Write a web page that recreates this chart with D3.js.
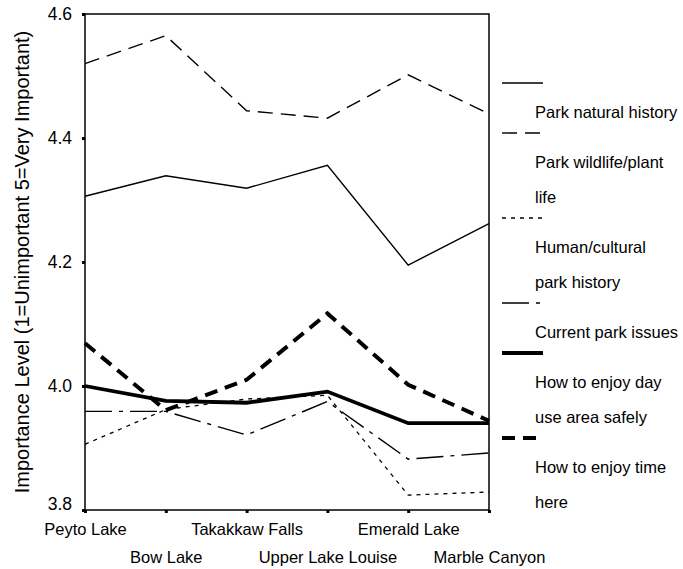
<!DOCTYPE html>
<html>
<head>
<meta charset="utf-8">
<script src="https://cdn.jsdelivr.net/npm/d3@7"></script>
<style>
  html, body { margin: 0; padding: 0; background: #fff; }
  svg { display: block; }
  text { font-family: "Liberation Sans", Arial, sans-serif; fill: #000; }
</style>
</head>
<body>
<script>
// ---- data ----
const categories = ["Peyto Lake", "Bow Lake", "Takakkaw Falls", "Upper Lake Louise", "Emerald Lake", "Marble Canyon"];
const yTicks = [3.8, 4.0, 4.2, 4.4, 4.6];
const seriesNames = [
  "Park natural history",
  "Park wildlife/plant life",
  "Human/cultural park history",
  "Current park issues",
  "How to enjoy day use area safely",
  "How to enjoy time here"
];
const legendLines = [
  ["Park natural history"],
  ["Park wildlife/plant", "life"],
  ["Human/cultural", "park history"],
  ["Current park issues"],
  ["How to enjoy day", "use area safely"],
  ["How to enjoy time", "here"]
];
const naturalHistory = [4.306, 4.339, 4.319, 4.356, 4.195, 4.262];
const wildlife       = [4.520, 4.565, 4.444, 4.432, 4.502, 4.439];
const humanCultural  = [3.906, 3.962, 3.979, 3.985, 3.824, 3.829];
const currentIssues  = [3.959, 3.959, 3.921, 3.975, 3.882, 3.892];
const daySafely      = [4.000, 3.976, 3.973, 3.991, 3.940, 3.940];
const timeHere       = [4.069, 3.961, 4.010, 4.117, 4.002, 3.944];
const seriesValues = [naturalHistory, wildlife, humanCultural, currentIssues, daySafely, timeHere];

// ---- styles ----
const styles = [
  { w: 1.4, dash: null },
  { w: 1.4, dash: "15,8" },
  { w: 1.3, dash: "4,5" },
  { w: 1.4, dash: "27,7,4,7" },
  { w: 3.8, dash: null },
  { w: 4,   dash: "13,8" }
];

const W = 683, H = 569;
const L = 85, R = 489, T = 14, B = 510;

const svg = d3.select("body").append("svg").attr("width", W).attr("height", H);

const x = d3.scalePoint().domain(categories).range([L, R]).padding(0);
const y = d3.scaleLinear().domain([3.8, 4.6]).range([B, T]);

// frame
svg.append("rect").attr("x", L).attr("y", T).attr("width", R - L).attr("height", B - T)
  .attr("fill", "none").attr("stroke", "#000").attr("stroke-width", 1.5);

// y axis
const yAxis = svg.append("g").attr("transform", `translate(${L},0)`)
  .call(d3.axisLeft(y).tickValues(yTicks).tickFormat(d3.format(".1f")).tickSize(3).tickPadding(10));
yAxis.select(".domain").remove();
yAxis.selectAll(".tick line").attr("stroke", "#000").attr("stroke-width", 3);
yAxis.selectAll(".tick text").style("font-size", "17.5px")
  .style("font-family", "'Liberation Sans', Arial, sans-serif")
  .attr("dy", (d) => d === 3.8 ? "-0.05em" : "0.32em");

// x axis
const xAxis = svg.append("g").attr("transform", `translate(0,${B})`)
  .call(d3.axisBottom(x).tickSize(3).tickPadding(0));
xAxis.select(".domain").remove();
xAxis.selectAll(".tick line").attr("stroke", "#000").attr("stroke-width", 3);
xAxis.selectAll(".tick text").style("font-size", "16.5px")
  .style("font-family", "'Liberation Sans', Arial, sans-serif")
  .attr("dy", null)
  .attr("y", (d, i) => i % 2 === 0 ? 25 : 53);

// y title
svg.append("text")
  .attr("transform", `translate(29,${(T + B) / 2}) rotate(-90)`)
  .attr("text-anchor", "middle")
  .style("font-size", "20px")
  .text("Importance Level (1=Unimportant 5=Very Important)");

// lines
const line = d3.line().x((d, i) => x(categories[i])).y(d => y(d));
seriesValues.forEach((vals, k) => {
  svg.append("path").datum(vals)
    .attr("d", line)
    .attr("fill", "none")
    .attr("stroke", "#000")
    .attr("stroke-width", styles[k].w)
    .attr("stroke-dasharray", styles[k].dash)
    .attr("stroke-linejoin", "miter");
});

// legend
let ly = 83;
const legend = svg.append("g");
legendLines.forEach((lines, k) => {
  legend.append("line")
    .attr("x1", 502).attr("x2", 543).attr("y1", ly).attr("y2", ly)
    .attr("stroke", "#000")
    .attr("stroke-width", styles[k].w)
    .attr("stroke-dasharray", styles[k].dash);
  let by = ly + 34.5;
  lines.forEach((t, j) => {
    legend.append("text").attr("x", 535).attr("y", by).style("font-size", "16.5px").text(t);
    if (j < lines.length - 1) by += 35;
  });
  ly = by + 15.5;
});
</script>
</body>
</html>
